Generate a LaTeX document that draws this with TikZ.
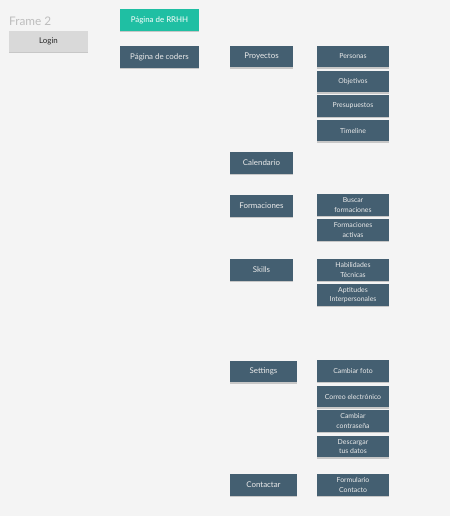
\documentclass[tikz,border=0pt]{standalone}
\usepackage{fontspec}
\setmainfont{Lato}
\definecolor{pagebg}{HTML}{F4F4F4}
\definecolor{slate}{HTML}{445F71}
\definecolor{teal}{HTML}{1FBFA3}
\definecolor{loginfill}{HTML}{D9D9D9}
\definecolor{framegrey}{HTML}{BDBDBD}
\tikzset{
  shade box/.style={preaction={fill=black!22,transform canvas={yshift=-1.3pt}}},
  menubox/.style={shade box,fill=slate,text=white!92!black,inner sep=0pt,minimum width=63pt,minimum height=21.5pt,align=center,font=\fontsize{7.9}{9}\selectfont},
  subbox/.style={menubox,minimum width=72pt,font=\fontsize{6.9}{9.8}\selectfont},
}
\begin{document}
\begin{tikzpicture}[x=1pt,y=1pt,yscale=-1,xscale=1]
%set diagram frame: 450 x 516
\fill[pagebg] (0,0) rectangle (450,516);
\useasboundingbox (0,0) rectangle (450,516);

% Text Node
\node (frame) [anchor=west,text=framegrey,font=\fontsize{11.8}{13}\selectfont,inner sep=0pt] at (9,21.5) {Frame 2};
%Login
\node (login) [shade box,fill=loginfill,text=black!85,inner sep=0pt,minimum width=79pt,minimum height=21pt,font=\fontsize{7.9}{9}\selectfont] at (48.5,41.5) {Login};

%Pages
\node (rrhh) [menubox,fill=teal,text=white,minimum width=79pt,minimum height=22pt] at (159.5,20) {Página de RRHH};
\node (coders) [menubox,minimum width=79pt,minimum height=22pt] at (159.5,57) {Página de coders};

%Menu
\node (proyectos) [menubox] at (261.5,56.5) {Proyectos};
\node (calendario) [menubox] at (261.5,163) {Calendario};
\node (formaciones) [menubox] at (261.5,206) {Formaciones};
\node (skills) [menubox] at (261.5,270) {Skills};
\node (settings) [menubox,minimum width=67pt] at (263.5,371.5) {Settings};
\node (contactar) [menubox,minimum width=67pt] at (263.5,485) {Contactar};

%Submenu Proyectos
\node (personas) [subbox] at (353,56.5) {Personas};
\node (objetivos) [subbox] at (353,81.5) {Objetivos};
\node (presupuestos) [subbox] at (353,106) {Presupuestos};
\node (timeline) [subbox] at (353,130.5) {Timeline};
%Submenu Formaciones
\node (buscar) [subbox] at (353,205) {Buscar\\formaciones};
\node (activas) [subbox] at (353,230) {Formaciones\\activas};
%Submenu Skills
\node (tecnicas) [subbox] at (353,270) {Habilidades\\Técnicas};
\node (aptitudes) [subbox] at (353,295) {Aptitudes\\Interpersonales};
%Submenu Settings
\node (foto) [subbox] at (353,371) {Cambiar foto};
\node (correo) [subbox] at (353,396.5) {Correo electrónico};
\node (clave) [subbox] at (353,421) {Cambiar\\contraseña};
\node (descargar) [subbox] at (353,446.5) {Descargar\\tus datos};
%Submenu Contactar
\node (formulario) [subbox] at (353,485) {Formulario\\Contacto};

\end{tikzpicture}
\end{document}
